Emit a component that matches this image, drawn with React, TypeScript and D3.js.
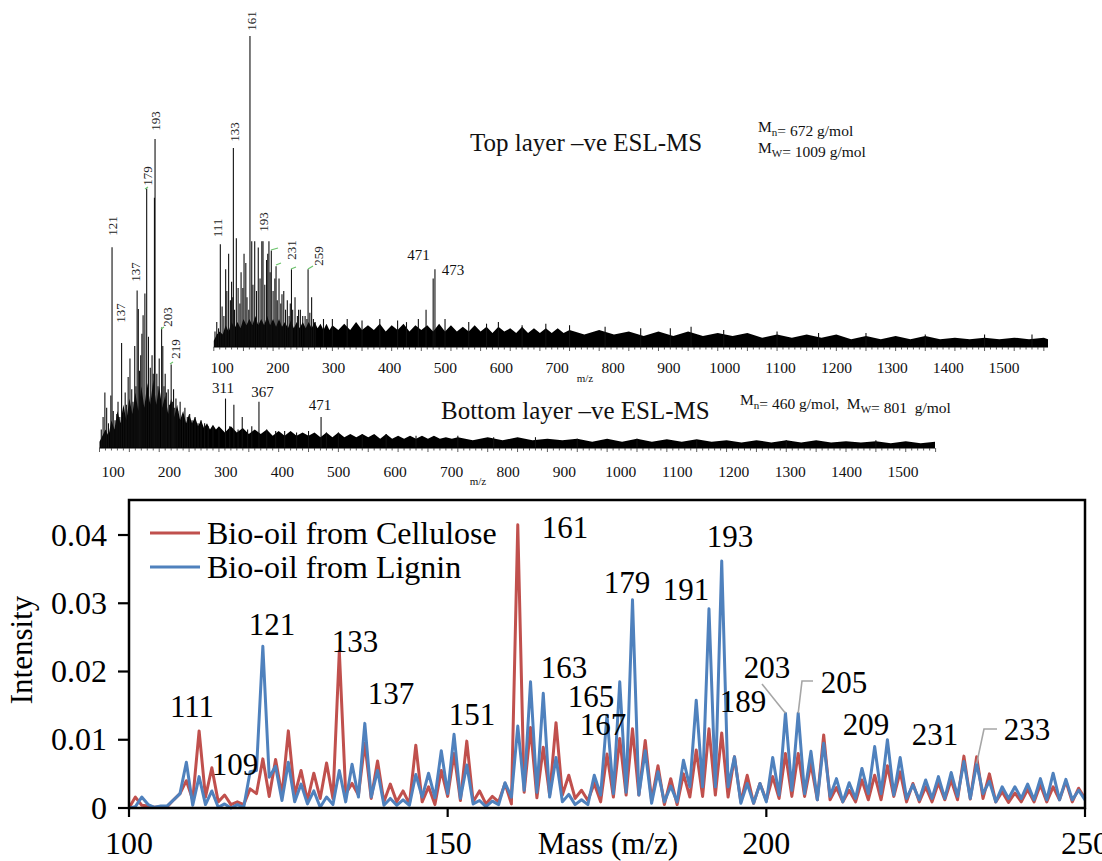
import { useEffect, useRef } from 'react';
import * as d3 from 'd3';

const WIDTH = 1102;
const HEIGHT = 861;
const FONT = '"Liberation Serif", "Times New Roman", Times, serif';

// ---------- lower chart: intensity per m/z ----------
const massValues = d3.range(100, 251);
const cellulose = [
  0, 0.0016, 0.0004, 0.0003, 0.0001, 0.0002, 0.0002, 0.0012, 0.0021, 0.0040,
  0.0012, 0.0113, 0.0016, 0.0059, 0.0009, 0.0019, 0.0005, 0.0009, 0.0005, 0.0028,
  0.0021, 0.0072, 0.0017, 0.0071, 0.0019, 0.0113, 0.0019, 0.0055, 0.0011, 0.0051,
  0.0014, 0.0066, 0.0014, 0.0230, 0.0021, 0.0036, 0.0019, 0.0095, 0.0014, 0.0069,
  0.0009, 0.0035, 0.0009, 0.0025, 0.0006, 0.0092, 0.0009, 0.0031, 0.0005, 0.0055,
  0.0017, 0.0080, 0.0011, 0.0098, 0.0009, 0.0025, 0.0006, 0.0017, 0.0009, 0.0036,
  0.0006, 0.0415, 0.0023, 0.0118, 0.0015, 0.0089, 0.0019, 0.0125, 0.0019, 0.0048,
  0.0014, 0.0026, 0.0011, 0.0036, 0.0009, 0.0079, 0.0016, 0.0102, 0.0019, 0.0116,
  0.0019, 0.0099, 0.0011, 0.0062, 0.0005, 0.0043, 0.0005, 0.0050, 0.0016, 0.0085,
  0.0017, 0.0116, 0.0019, 0.0110, 0.0016, 0.0075, 0.0009, 0.0048, 0.0007, 0.0036,
  0.0011, 0.0046, 0.0014, 0.0080, 0.0017, 0.0080, 0.0017, 0.0065, 0.0012, 0.0107,
  0.0012, 0.0030, 0.0009, 0.0026, 0.0009, 0.0041, 0.0012, 0.0048, 0.0012, 0.0062,
  0.0017, 0.0053, 0.0009, 0.0036, 0.0009, 0.0031, 0.0009, 0.0037, 0.0012, 0.0041,
  0.0012, 0.0076, 0.0013, 0.0075, 0.0014, 0.0050, 0.0009, 0.0024, 0.0008, 0.0022,
  0.0009, 0.0027, 0.0009, 0.0034, 0.0009, 0.0031, 0.0012, 0.0039, 0.0009, 0.0029,
  0.0014,
];
const lignin = [
  0, 0.0002, 0.0016, 0.0005, 0.0001, 0.0003, 0.0003, 0.0012, 0.0021, 0.0067,
  0.0004, 0.0046, 0.0005, 0.0025, 0.0001, 0.0006, 0.0000, 0.0005, 0.0001, 0.0053,
  0.0055, 0.0237, 0.0045, 0.0061, 0.0011, 0.0067, 0.0009, 0.0035, 0.0006, 0.0025,
  0.0001, 0.0016, 0.0005, 0.0055, 0.0009, 0.0064, 0.0016, 0.0124, 0.0016, 0.0055,
  0.0004, 0.0014, 0.0004, 0.0012, 0.0004, 0.0049, 0.0016, 0.0051, 0.0015, 0.0084,
  0.0021, 0.0108, 0.0014, 0.0063, 0.0006, 0.0011, 0.0002, 0.0010, 0.0005, 0.0037,
  0.0016, 0.0120, 0.0026, 0.0185, 0.0023, 0.0168, 0.0016, 0.0074, 0.0009, 0.0020,
  0.0005, 0.0012, 0.0005, 0.0048, 0.0019, 0.0136, 0.0021, 0.0185, 0.0023, 0.0305,
  0.0019, 0.0084, 0.0007, 0.0053, 0.0009, 0.0032, 0.0009, 0.0070, 0.0031, 0.0158,
  0.0031, 0.0292, 0.0031, 0.0362, 0.0031, 0.0075, 0.0007, 0.0036, 0.0007, 0.0036,
  0.0009, 0.0074, 0.0019, 0.0139, 0.0026, 0.0139, 0.0021, 0.0083, 0.0012, 0.0095,
  0.0017, 0.0043, 0.0009, 0.0037, 0.0014, 0.0058, 0.0021, 0.0090, 0.0021, 0.0100,
  0.0019, 0.0074, 0.0014, 0.0034, 0.0012, 0.0041, 0.0014, 0.0046, 0.0014, 0.0052,
  0.0017, 0.0068, 0.0014, 0.0065, 0.0021, 0.0039, 0.0009, 0.0031, 0.0014, 0.0031,
  0.0014, 0.0035, 0.0012, 0.0043, 0.0012, 0.0051, 0.0012, 0.0042, 0.0012, 0.0026,
  0.0012,
];
const seriesNames = ['Bio-oil from Cellulose', 'Bio-oil from Lignin'];
const seriesColors = ['#C0504D', '#4F81BD'];
const yTicks = [0, 0.01, 0.02, 0.03, 0.04];
const xTicks = [100, 150, 200, 250];

// peak annotations: text, centre x, baseline y
const peakLabels: [string, number, number][] = [
  ['111', 192, 717], ['109', 235, 775], ['121', 272, 635], ['133', 355, 652],
  ['137', 391, 704], ['151', 472, 725], ['161', 565, 538], ['163', 564, 678],
  ['165', 591, 707], ['167', 603, 735], ['179', 627, 593], ['191', 686, 600],
  ['193', 730, 547], ['203', 767, 678], ['189', 743, 712], ['205', 844, 693],
  ['209', 866, 735], ['231', 935, 745], ['233', 1027, 740],
];
// leader lines from label to a lignin point
const leaders: { mz: number; from: [number, number][] }[] = [
  { mz: 203, from: [[762, 684]] },
  { mz: 205, from: [[813, 681], [802, 681]] },
  { mz: 233, from: [[997, 729], [984, 729]] },
];

// ---------- upper spectra (relative intensity, 100 = base peak) ----------
const topPeaks: [number, number][] = [
  [102, 5], [105, 8], [108, 6], [111, 33], [114, 13], [117, 10], [120, 25], [122, 18],
  [125, 30], [128, 15], [130, 21], [132, 16], [133, 64], [135, 12], [138, 35], [141, 19],
  [144, 14], [146, 24], [149, 19], [151, 30], [154, 27], [156, 16], [159, 12], [161, 100],
  [164, 34], [166, 20], [169, 34], [172, 18], [175, 32], [178, 22], [181, 34], [183, 34],
  [186, 20], [189, 28], [191, 30], [193, 34], [195, 24], [197, 31], [200, 18], [203, 22],
  [205, 26], [207, 15], [210, 22], [213, 14], [215, 17], [218, 18], [221, 12], [224, 15],
  [227, 10], [229, 14], [231, 25], [233, 12], [237, 16], [241, 10], [243, 12], [246, 12],
  [250, 10], [254, 10], [257, 9], [259, 25], [262, 11], [265, 16], [268, 9], [271, 8],
  [285, 9], [300, 9], [325, 9], [350, 8.5], [380, 9], [410, 8.5], [425, 8], [445, 9],
  [458, 12], [470, 22], [473, 25], [490, 9], [530, 8], [560, 7.5], [580, 8], [620, 7],
  [660, 7.5], [700, 7], [760, 6.5], [820, 6], [870, 6], [905, 6.5], [960, 5.5], [1050, 5],
  [1120, 4.5], [1200, 4.5], [1300, 4], [1400, 4], [1480, 4],
];
const topNoise: [number, number][] = [
  [100, 2], [105, 4], [110, 5], [115, 4], [120, 7], [125, 5], [130, 8], [135, 6], [140, 8],
  [145, 6], [150, 9], [155, 7], [160, 9], [165, 7], [170, 10], [175, 7], [180, 9], [185, 7],
  [190, 10], [195, 7], [200, 9], [205, 6.5], [210, 9], [215, 6.5], [220, 8], [225, 6],
  [230, 8.5], [235, 6], [240, 8], [245, 6], [250, 8], [255, 6], [260, 8], [265, 6], [270, 8],
  [275, 6], [280, 7.5], [285, 5.5], [290, 7.5], [295, 5.5], [300, 7],
  [310, 5.5], [320, 7.5], [330, 5.5], [340, 8], [350, 5.5], [360, 7], [370, 5.5], [380, 7.5],
  [390, 5], [400, 7], [410, 5.5], [420, 7.5], [430, 5], [440, 7], [450, 5.5], [460, 7],
  [470, 5], [480, 7.5], [490, 5], [500, 7], [510, 5], [520, 6.5], [530, 5], [540, 7],
  [550, 5], [560, 6.5], [570, 4.5], [580, 6.5], [590, 5], [600, 6], [610, 4.5], [620, 6.5],
  [630, 4.5], [640, 6], [650, 4.5], [660, 6], [670, 4.5], [680, 6], [690, 4.5], [700, 5.5],
  [725, 4], [750, 5.5], [775, 4], [800, 5], [825, 3.5], [850, 5], [875, 3.5], [900, 5],
  [925, 3.5], [950, 4.5], [975, 3.5], [1000, 4.5], [1025, 3], [1050, 4], [1075, 3], [1100, 4],
  [1125, 3], [1150, 4], [1175, 2.5], [1200, 3.5], [1225, 2.5], [1250, 3.5], [1275, 2.5],
  [1300, 3.5], [1325, 2.5], [1350, 3], [1375, 2.5], [1400, 3], [1425, 2.5], [1450, 3],
  [1475, 2.5], [1500, 3], [1507, 2.5],
];
const bottomPeaks: [number, number][] = [
  [103, 6], [106, 10], [109, 18], [112, 13], [115, 8], [119, 17], [121, 65], [123, 12],
  [126, 9], [129, 11], [131, 15], [134, 10], [137, 34], [140, 12], [143, 18], [145, 14],
  [148, 23], [151, 29], [154, 19], [156, 15], [159, 33], [161, 20], [163, 51], [165, 45],
  [167, 25], [169, 30], [171, 37], [173, 43], [176, 50], [179, 84], [182, 36], [185, 26],
  [188, 30], [190, 24], [192, 81], [193, 100], [196, 24], [198, 20], [200, 29], [204, 39],
  [206, 33], [208, 20], [210, 24], [212, 18], [215, 19], [217, 14], [220, 27], [222, 15],
  [224, 19], [226, 13], [228, 16], [231, 12], [235, 15], [239, 11], [243, 13], [247, 10],
  [251, 11], [255, 9], [260, 10], [265, 8], [270, 9], [276, 8], [282, 7], [290, 7],
  [300, 6], [311, 16], [318, 7], [325, 14], [332, 6], [339, 10], [348, 6], [355, 7],
  [367, 15], [380, 6], [395, 5.5], [410, 5.5], [430, 5], [450, 5.5], [471, 10], [480, 5],
  [500, 5], [540, 4.5], [580, 4.5], [630, 4], [700, 4], [760, 3.5], [830, 3.5], [900, 3],
  [1000, 3], [1100, 2.5], [1250, 2.5], [1400, 2.5],
];
const bottomNoise: [number, number][] = [
  [100, 2], [105, 4], [110, 6], [115, 4], [120, 9], [125, 6], [130, 12], [135, 8], [140, 14],
  [145, 9], [150, 16], [155, 11], [160, 18], [165, 12], [170, 20], [175, 13], [180, 21],
  [185, 14], [190, 22], [195, 14], [200, 20], [205, 13], [210, 17], [215, 11], [220, 16],
  [225, 10], [230, 14], [235, 9], [240, 12], [245, 8], [250, 11], [255, 8], [260, 10],
  [265, 7], [270, 9], [275, 6.5], [280, 8], [285, 6], [290, 7.5], [295, 6], [300, 7],
  [310, 5], [320, 7], [330, 5], [340, 6.5], [350, 4.5], [360, 6], [370, 4.5], [380, 6],
  [390, 4], [400, 5.5], [410, 4], [420, 5.5], [430, 4], [440, 5], [450, 4], [460, 5],
  [470, 3.5], [480, 5], [490, 3.5], [500, 5], [510, 3.5], [520, 4.5], [530, 3.5], [540, 4.5],
  [550, 3.5], [560, 4.5], [570, 3], [580, 4.5], [590, 3], [600, 4], [610, 3], [620, 4],
  [630, 3], [640, 4], [650, 3], [660, 4], [670, 3], [680, 3.5], [690, 3], [700, 3.5],
  [725, 2.5], [750, 3.5], [775, 2.5], [800, 3.5], [825, 2.5], [850, 3], [875, 2.5], [900, 3],
  [925, 2], [950, 3], [975, 2], [1000, 3], [1025, 2], [1050, 2.8], [1075, 2], [1100, 2.8],
  [1125, 2], [1150, 2.5], [1175, 1.8], [1200, 2.5], [1225, 1.8], [1250, 2.5], [1275, 1.8],
  [1300, 2.5], [1325, 1.8], [1350, 2.2], [1375, 1.8], [1400, 2.2], [1425, 1.5], [1450, 2.2],
  [1475, 1.5], [1499, 2],
];
const spectrumTicks = [100, 200, 300, 400, 500, 600, 700, 800, 900, 1000, 1100, 1200, 1300, 1400, 1500];

type Sel = d3.Selection<SVGSVGElement, unknown, null, undefined>;

function drawSpectrum(
  svg: Sel,
  o: {
    peaks: [number, number][];
    noise: [number, number][];
    x: d3.ScaleLinear<number, number>;
    y: d3.ScaleLinear<number, number>;
    labelX: d3.ScaleLinear<number, number>;
    labelY: number;
    mzLabel: [number, number];
    rotLabels: [string, number, number][];
    flatLabels: [string, number, number][];
  },
) {
  const g = svg.append('g');
  const [x0, x1] = o.x.range();
  const base = o.y(0);

  const area = d3.area<[number, number]>().x((d) => o.x(d[0])).y0(base).y1((d) => o.y(d[1]));
  g.append('path').attr('d', area(o.noise)).attr('fill', '#000');

  g.selectAll('line.stick').data(o.peaks).join('line')
    .attr('x1', (d) => o.x(d[0])).attr('x2', (d) => o.x(d[0]))
    .attr('y1', base).attr('y2', (d) => o.y(d[1]))
    .attr('stroke', '#111').attr('stroke-width', 1.1);

  g.append('line').attr('x1', x0).attr('x2', x1).attr('y1', base).attr('y2', base)
    .attr('stroke', '#000').attr('stroke-width', 1.2);
  const minor = d3.range(100, 1501, 10);
  g.selectAll('line.tick').data(minor).join('line')
    .attr('x1', (d) => o.x(d)).attr('x2', (d) => o.x(d))
    .attr('y1', base).attr('y2', (d) => base + (d % 50 === 0 ? 4 : 2.5))
    .attr('stroke', '#333').attr('stroke-width', 0.8);

  g.selectAll('text.tl').data(spectrumTicks).join('text')
    .attr('x', (d) => o.labelX(d)).attr('y', o.labelY)
    .attr('text-anchor', 'middle').attr('font-family', FONT).attr('font-size', 15.5)
    .attr('fill', '#111').text((d) => d);
  g.append('text').attr('x', o.mzLabel[0]).attr('y', o.mzLabel[1])
    .attr('text-anchor', 'middle').attr('font-family', FONT).attr('font-size', 11)
    .attr('fill', '#111').text('m/z');

  o.rotLabels.forEach(([t, cx, cy]) => {
    g.append('text').attr('transform', `translate(${cx},${cy}) rotate(-90)`)
      .attr('text-anchor', 'middle').attr('dy', '0.35em')
      .attr('font-family', FONT).attr('font-size', 13).attr('fill', '#222').text(t);
  });
  o.flatLabels.forEach(([t, cx, by]) => {
    g.append('text').attr('x', cx).attr('y', by).attr('text-anchor', 'middle')
      .attr('font-family', FONT).attr('font-size', 15).attr('fill', '#111').text(t);
  });
}

export default function App() {
  const svgRef = useRef<SVGSVGElement>(null);

  useEffect(() => {
    const svg = d3.select(svgRef.current) as unknown as Sel;
    svg.selectAll('*').remove();
    svg.append('rect').attr('width', WIDTH).attr('height', HEIGHT).attr('fill', '#fff');

    // ---- top layer spectrum ----
    drawSpectrum(svg, {
      peaks: topPeaks,
      noise: topNoise,
      x: d3.scaleLinear().domain([100, 1507]).range([213.8, 1048]),
      y: d3.scaleLinear().domain([0, 100]).range([347, 36]),
      labelX: d3.scaleLinear().domain([100, 1500]).range([222, 1004]),
      labelY: 373,
      mzLabel: [585, 382],
      rotLabels: [['161', 251.5, 21], ['133', 234, 132], ['111', 217, 228], ['193', 263.5, 222], ['231', 291, 250], ['259', 318, 256]],
      flatLabels: [['471', 418.5, 260], ['473', 453, 275]],
    });
    // ---- bottom layer spectrum ----
    drawSpectrum(svg, {
      peaks: bottomPeaks,
      noise: bottomNoise,
      x: d3.scaleLinear().domain([100, 1499]).range([99.5, 935]),
      y: d3.scaleLinear().domain([0, 100]).range([448, 139]),
      labelX: d3.scaleLinear().domain([100, 1500]).range([113, 903]),
      labelY: 477,
      mzLabel: [478, 485],
      rotLabels: [['121', 112, 226], ['137', 120, 313], ['137', 135, 272], ['179', 147, 176], ['193', 155, 121], ['203', 167, 317], ['219', 175, 349]],
      flatLabels: [['311', 223, 393], ['367', 262.5, 397], ['471', 320, 410]],
    });

    // green leader stubs on the spectra
    const stubs = [[271, 250, 278, 248], [276, 265, 281, 263], [291, 269, 296, 267], [308, 269, 313, 266], [145, 189, 148, 187], [161, 329, 164, 327], [170, 364, 173, 362]];
    svg.selectAll('line.stub').data(stubs).join('line')
      .attr('x1', (d) => d[0]).attr('y1', (d) => d[1]).attr('x2', (d) => d[2]).attr('y2', (d) => d[3])
      .attr('stroke', '#6cc36c').attr('stroke-width', 1.2);

    // titles and molecular weights
    const t = svg.append('g').attr('font-family', FONT).attr('fill', '#111');
    t.append('text').attr('x', 470).attr('y', 151).attr('font-size', 25).text('Top layer –ve ESL-MS');
    t.append('text').attr('x', 441).attr('y', 419).attr('font-size', 25).text('Bottom layer –ve ESL-MS');
    const mw = (xx: number, yy: number, parts: [string, boolean][]) => {
      const tx = t.append('text').attr('x', xx).attr('y', yy).attr('font-size', 15.5);
      parts.forEach(([s, sub]) => {
        tx.append('tspan').attr('font-size', sub ? 11 : 15.5).attr('dy', sub ? 4 : 0).text(s);
        if (sub) tx.append('tspan').attr('dy', -4).text('');
      });
    };
    mw(758, 132, [['M', false], ['n', true], ['= 672 g/mol', false]]);
    mw(758, 153, [['M', false], ['W', true], ['= 1009 g/mol', false]]);
    mw(740, 405, [['M', false], ['n', true], ['= 460 g/mol,\u00a0\u00a0M', false], ['W', true], ['= 801\u00a0\u00a0g/mol', false]]);

    // ---- lower line chart ----
    const left = 129, right = 1085, top = 500, bottom = 808;
    const x = d3.scaleLinear().domain([100, 250]).range([left, right]);
    const y = d3.scaleLinear().domain([0, 0.04513]).range([bottom, top]);
    const c = svg.append('g');

    const line = d3.line<number>().x((_, i) => x(massValues[i])).y((d) => y(d));
    [cellulose, lignin].forEach((s, i) => {
      c.append('path').attr('d', line(s)).attr('fill', 'none')
        .attr('stroke', seriesColors[i]).attr('stroke-width', 3)
        .attr('stroke-linejoin', 'round');
    });

    c.append('rect').attr('x', left).attr('y', top).attr('width', right - left).attr('height', bottom - top)
      .attr('fill', 'none').attr('stroke', '#000').attr('stroke-width', 2.5);

    yTicks.forEach((v) => {
      c.append('line').attr('x1', left - 11).attr('x2', left).attr('y1', y(v)).attr('y2', y(v))
        .attr('stroke', '#000').attr('stroke-width', 2.2);
      c.append('text').attr('x', 107).attr('y', y(v) + 10.5).attr('text-anchor', 'end')
        .attr('font-family', FONT).attr('font-size', 32).attr('fill', '#000').text(v === 0 ? '0' : v.toFixed(2));
    });
    xTicks.forEach((v) => {
      c.append('line').attr('x1', x(v)).attr('x2', x(v)).attr('y1', bottom).attr('y2', bottom + 9)
        .attr('stroke', '#000').attr('stroke-width', 2.2);
      c.append('text').attr('x', x(v)).attr('y', 854).attr('text-anchor', 'middle')
        .attr('font-family', FONT).attr('font-size', 32).attr('fill', '#000').text(v);
    });
    c.append('text').attr('x', 608).attr('y', 854).attr('text-anchor', 'middle')
      .attr('font-family', FONT).attr('font-size', 31).attr('fill', '#000').text('Mass (m/z)');
    c.append('text').attr('transform', 'translate(32,650) rotate(-90)').attr('text-anchor', 'middle')
      .attr('font-family', FONT).attr('font-size', 31).attr('fill', '#000').text('Intensity');

    // legend
    seriesNames.forEach((name, i) => {
      const ly = 533 + i * 34;
      c.append('line').attr('x1', 150).attr('x2', 200).attr('y1', ly).attr('y2', ly)
        .attr('stroke', seriesColors[i]).attr('stroke-width', 3);
      c.append('text').attr('x', 207).attr('y', ly + 11).attr('font-family', FONT)
        .attr('font-size', 32).attr('fill', '#000').text(name);
    });

    // leader lines
    leaders.forEach((l) => {
      const end: [number, number] = [x(l.mz), y(lignin[l.mz - 100])];
      c.append('path').attr('d', d3.line()([...l.from, end]))
        .attr('fill', 'none').attr('stroke', '#A6A6A6').attr('stroke-width', 1.6);
    });

    peakLabels.forEach(([txt, cx, by]) => {
      c.append('text').attr('x', cx).attr('y', by).attr('text-anchor', 'middle')
        .attr('font-family', FONT).attr('font-size', 31).attr('fill', '#000').text(txt);
    });
  }, []);

  return (
    <div style={{ position: 'absolute', left: 0, top: 0, background: '#fff' }}>
      <svg ref={svgRef} width={WIDTH} height={HEIGHT} style={{ display: 'block' }} />
    </div>
  );
}
